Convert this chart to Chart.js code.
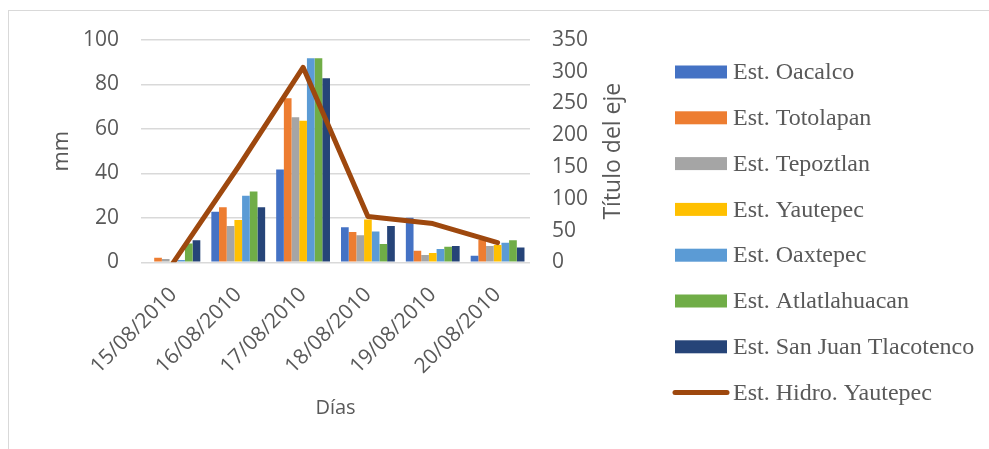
<!DOCTYPE html>
<html lang="es">
<head>
<meta charset="UTF-8">
<title>Precipitación</title>
<script src="https://cdn.jsdelivr.net/npm/chart.js"></script>
<style>
  body { margin: 0; background: #fff; }
  #wrap { position: relative; width: 989px; height: 449px; overflow: hidden; }
  #frame { position: absolute; left: 8px; top: 10px; width: 1000px; height: 500px; border: 1px solid #d9d9d9; }
  canvas { position: absolute; left: 0; top: 0; }
</style>
</head>
<body>
<div id="wrap">
  <div id="frame"></div>
  <canvas id="myChart" width="989" height="449"></canvas>
</div>
<script>
// días
const dias = ['15/08/2010', '16/08/2010', '17/08/2010', '18/08/2010', '19/08/2010', '20/08/2010'];

// lluvia por estación (mm)
const oacalco       = [0,   22.7, 41.8, 15.8, 20,  3];
const totolapan     = [2.1, 24.8, 73.8, 13.6, 5.2, 10];
const tepoztlan     = [1.5, 16.3, 65.2, 12.2, 3.3, 7.3];
const yautepec      = [0.5, 19,   63.7, 19.3, 4.2, 7.8];
const oaxtepec      = [1,   29.9, 91.8, 13.9, 6,   8.8];
const atlatlahuacan = [8.5, 31.8, 91.8, 8.2,  7,   9.9];
const sanJuan       = [9.9, 24.8, 82.8, 16.3, 7.3, 6.7];

// estación hidrométrica (eje derecho)
const hidroYautepec = [0, 150, 307, 72, 61, 31];

const leftTicks = { min: 0, max: 100, step: 20 };
const rightTicks = { min: 0, max: 350, step: 50 };

const gris = '#595959';

function barra(label, data, color) {
    return { type: 'bar', label: label, data: data, backgroundColor: color, yAxisID: 'y', order: 1 };
}

// leyenda a la derecha y título del eje derecho
const sideLegend = {
    id: 'sideLegend',
    afterDraw(chart) {
        const ctx = chart.ctx;
        ctx.save();
        ctx.font = '24px "Liberation Serif"';
        ctx.fillStyle = gris;
        ctx.textBaseline = 'middle';
        chart.data.datasets.forEach((ds, i) => {
            const y = 72 + i * 45.8;
            if (ds.type === 'line') {
                ctx.strokeStyle = ds.borderColor;
                ctx.lineWidth = 5;
                ctx.lineCap = 'round';
                ctx.beginPath();
                ctx.moveTo(675, y);
                ctx.lineTo(727, y);
                ctx.stroke();
            } else {
                ctx.fillStyle = ds.backgroundColor;
                ctx.fillRect(675, y - 6.5, 52, 13);
            }
            ctx.fillStyle = gris;
            ctx.fillText(ds.label, 733, y + 1);
        });

        const area = chart.chartArea;
        ctx.font = '23px "Open Sans"';
        ctx.textAlign = 'center';
        ctx.translate(chart.scales.y1.right - 27, (area.top + area.bottom) / 2);
        ctx.rotate(-Math.PI / 2);
        ctx.fillText('Título del eje', 0, 0);
        ctx.restore();
    }
};

const ctx = document.getElementById('myChart').getContext('2d');
new Chart(ctx, {
    type: 'bar',
    data: {
        labels: dias,
        datasets: [
            barra('Est. Oacalco', oacalco, '#4472C4'),
            barra('Est. Totolapan', totolapan, '#ED7D31'),
            barra('Est. Tepoztlan', tepoztlan, '#A5A5A5'),
            barra('Est. Yautepec', yautepec, '#FFC000'),
            barra('Est. Oaxtepec', oaxtepec, '#5B9BD5'),
            barra('Est. Atlatlahuacan', atlatlahuacan, '#70AD47'),
            barra('Est. San Juan Tlacotenco', sanJuan, '#264478'),
            {
                type: 'line',
                label: 'Est. Hidro. Yautepec',
                data: hidroYautepec,
                yAxisID: 'y1',
                borderColor: '#9E480E',
                backgroundColor: '#9E480E',
                borderWidth: 5,
                borderCapStyle: 'round',
                borderJoinStyle: 'round',
                pointRadius: 0,
                tension: 0,
                order: 0
            }
        ]
    },
    options: {
        responsive: false,
        animation: false,
        categoryPercentage: 0.83,
        barPercentage: 1,
        layout: { padding: { left: 0, right: 349, top: 40, bottom: 0 } },
        plugins: {
            legend: { display: false },
            tooltip: { enabled: false }
        },
        scales: {
            x: {
                grid: { display: false },
                border: { display: false },
                ticks: {
                    color: gris,
                    font: { family: 'Open Sans', size: 21 },
                    minRotation: 45,
                    maxRotation: 45,
                    padding: 12,
                    labelOffset: 0
                },
                title: {
                    display: true,
                    text: 'Días',
                    color: gris,
                    font: { family: 'Open Sans', size: 20 },
                    padding: { top: 0, bottom: 29 }
                },
                afterFit(scale) { scale.height = 186.7; }
            },
            y: {
                position: 'left',
                min: leftTicks.min,
                max: leftTicks.max,
                grid: { color: '#d9d9d9', lineWidth: 1.5, drawTicks: false },
                border: { display: false },
                ticks: {
                    stepSize: leftTicks.step,
                    color: gris,
                    font: { family: 'Open Sans', size: 21 },
                    padding: 22
                },
                title: {
                    display: true,
                    text: 'mm',
                    color: gris,
                    font: { family: 'Open Sans', size: 22 },
                    padding: { top: 49, bottom: 0 }
                },
                afterFit(scale) { scale.width = 141; }
            },
            y1: {
                position: 'right',
                min: rightTicks.min,
                max: rightTicks.max,
                grid: { display: false, drawTicks: false },
                border: { display: false },
                ticks: {
                    stepSize: rightTicks.step,
                    color: gris,
                    font: { family: 'Open Sans', size: 21 },
                    padding: 22
                },
                afterFit(scale) { scale.width = 110; }
            }
        }
    },
    plugins: [sideLegend]
});
</script>
</body>
</html>
